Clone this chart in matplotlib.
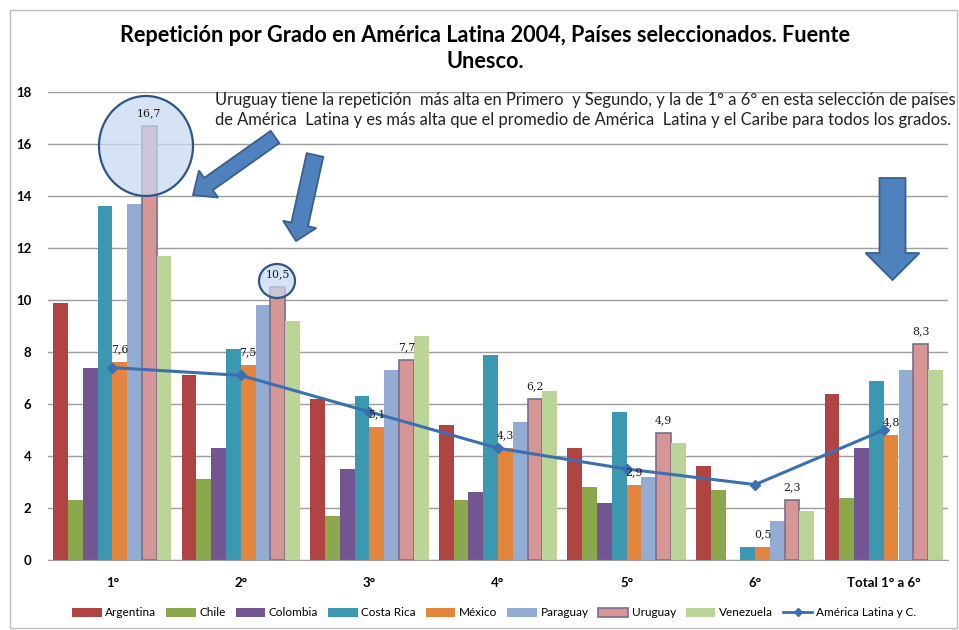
import matplotlib
matplotlib.use("Agg")
import matplotlib.pyplot as plt
import numpy as np
from matplotlib.patches import Polygon, Ellipse, Rectangle, Patch
from matplotlib.lines import Line2D

categories = ["1°", "2°", "3°", "4°", "5°", "6°", "Total 1° a 6°"]
countries = ["Argentina", "Chile", "Colombia", "Costa Rica", "México",
             "Paraguay", "Uruguay", "Venezuela"]
argentina = [9.9, 7.1, 6.2, 5.2, 4.3, 3.6, 6.4]
chile = [2.3, 3.1, 1.7, 2.3, 2.8, 2.7, 2.4]
colombia = [7.4, 4.3, 3.5, 2.6, 2.2, 0.0, 4.3]
costa_rica = [13.6, 8.1, 6.3, 7.9, 5.7, 0.5, 6.9]
mexico = [7.6, 7.5, 5.1, 4.3, 2.9, 0.5, 4.8]
paraguay = [13.7, 9.8, 7.3, 5.3, 3.2, 1.5, 7.3]
uruguay = [16.7, 10.5, 7.7, 6.2, 4.9, 2.3, 8.3]
venezuela = [11.7, 9.2, 8.6, 6.5, 4.5, 1.9, 7.3]
america_latina = [7.4, 7.1, 5.7, 4.3, 3.5, 2.9, 5.0]
line_label = "América Latina y C."

series = [argentina, chile, colombia, costa_rica, mexico, paraguay, uruguay, venezuela]
colors = ["#B04443", "#8BA94C", "#735591", "#3C97B1", "#E4853D",
          "#93ACD4", "#D69695", "#BBD498"]
line_color = "#3B6FB1"

W, H = 959, 630
fig = plt.figure(figsize=(W / 100, H / 100), dpi=100)
fig.patch.set_facecolor("white")
renderer = fig.canvas.get_renderer()

FONT = ["Lato", "DejaVu Sans"]


def fit(t, target_w):
    bb = t.get_window_extent(renderer)
    t.set_fontsize(t.get_fontsize() * target_w / bb.width)
    return t.get_fontsize()


# overlay in pixel coordinates for annotation shapes / text
ov = fig.add_axes([0, 0, 1, 1], facecolor="none")
ov.set_xlim(0, W)
ov.set_ylim(H, 0)
ov.axis("off")
ov.set_zorder(3)

ax = fig.add_axes([48 / W, 1 - 560 / H, 900 / W, 468 / H])
ax.set_zorder(2)
x = np.arange(len(categories))
bw = 0.115
for i, (vals, col) in enumerate(zip(series, colors)):
    offs = (i - 3.5) * bw
    is_u = countries[i] == "Uruguay"
    ax.bar(x + offs, vals, width=bw, color=col,
           edgecolor="#7A6E8C" if is_u else "none", linewidth=1.2 if is_u else 0,
           zorder=2, label=countries[i])
    if countries[i] in ("Uruguay", "México"):
        for xi, v in zip(x, vals):
            ax.text(xi + offs, v + 0.3, f"{v:.1f}".replace(".", ","),
                    ha="center", va="bottom", fontsize=7.8, color="#1A1A1A",
                    family="DejaVu Serif", zorder=6)

ax.plot(x, america_latina, color=line_color, linewidth=2.2, marker="D",
        markersize=5.5, zorder=4, label=line_label)

ax.set_xlim(-0.5, len(categories) - 0.5)
ax.set_ylim(0, 18)
ax.set_yticks(np.arange(0, 19, 2))
ax.yaxis.grid(True, color="#9E9E9E", linewidth=1, zorder=0)
ax.set_axisbelow(True)
for s in ("left", "right", "top"):
    ax.spines[s].set_visible(False)
ax.spines["bottom"].set_color("#9E9E9E")
ax.tick_params(axis="y", length=0, pad=12, labelsize=9.5)
ax.tick_params(axis="x", length=0, pad=12, labelsize=9.5)
ax.set_xticks(x)
ax.set_xticklabels(categories, fontweight="bold", family=FONT)
for t in ax.get_yticklabels():
    t.set_fontweight("bold")
    t.set_family(FONT)

# highlight circles (drawn in pixel space, inside the chart axes so labels sit above)
for (cx, cy, ew, eh) in [(146, 146, 94, 100), (277, 281, 36, 34)]:
    ax.add_patch(Ellipse((cx, cy), ew, eh, facecolor="#C6D9F1", alpha=0.72,
                         edgecolor="none", transform=ov.transData, clip_on=False,
                         zorder=3))
    ax.add_patch(Ellipse((cx, cy), ew, eh, facecolor="none", edgecolor="#2F5584",
                         linewidth=1.6, transform=ov.transData, clip_on=False,
                         zorder=3))

ov.add_patch(Rectangle((10, 10), W - 12, H - 12, fill=False,
                       edgecolor="#BDBDBD", linewidth=1))


def arrow_poly(tail, tip, shaft_w, head_w, head_len):
    tail = np.array(tail, float)
    tip = np.array(tip, float)
    d = tip - tail
    u = d / np.hypot(*d)
    n = np.array([-u[1], u[0]])
    base = tip - u * head_len
    pts = [tail + n * shaft_w / 2, base + n * shaft_w / 2, base + n * head_w / 2,
           tip, base - n * head_w / 2, base - n * shaft_w / 2, tail - n * shaft_w / 2]
    return Polygon(pts, closed=True, facecolor="#4F81BD", edgecolor="#3A5F8E",
                   linewidth=1.3, zorder=6)


ov.add_patch(arrow_poly((275, 137), (193, 195), 15, 33, 19))
ov.add_patch(arrow_poly((315, 155), (296, 241), 17, 34, 17))
ov.add_patch(arrow_poly((892.5, 178), (892.5, 280), 26, 54, 27))

t1 = ov.text(485, 36, "Repetición por Grado en América Latina 2004, Países seleccionados. Fuente",
             ha="center", va="center", fontsize=14, fontweight="bold", family=FONT)
fs = fit(t1, 730)
ov.text(485, 62, "Unesco.", ha="center", va="center", fontsize=fs,
        fontweight="bold", family=FONT)
a1 = ov.text(215, 100, "Uruguay tiene la repetición  más alta en Primero  y Segundo, y la de 1° a 6° en esta selección de países",
             ha="left", va="center", fontsize=11, family=FONT, color="#222222")
fs2 = fit(a1, 740)
ov.text(215, 120, "de América  Latina y es más alta que el promedio de América  Latina y el Caribe para todos los grados.",
        ha="left", va="center", fontsize=fs2, family=FONT, color="#222222")

handles = []
for c, col in zip(countries, colors):
    if c == "Uruguay":
        handles.append(Patch(facecolor=col, edgecolor="#7A6E8C", linewidth=1.2, label=c))
    else:
        handles.append(Patch(facecolor=col, edgecolor="none", label=c))
handles.append(Line2D([], [], color=line_color, linewidth=2, marker="D",
                      markersize=4.5, label=line_label))
fig.legend(handles=handles, loc="center", bbox_to_anchor=(494 / W, 1 - 613 / H),
           ncol=9, frameon=False, handlelength=2.5,
           handleheight=0.7, handletextpad=0.3, columnspacing=0.85,
           prop={"family": FONT, "size": 8.5})

fig.savefig("out.png", dpi=100)
